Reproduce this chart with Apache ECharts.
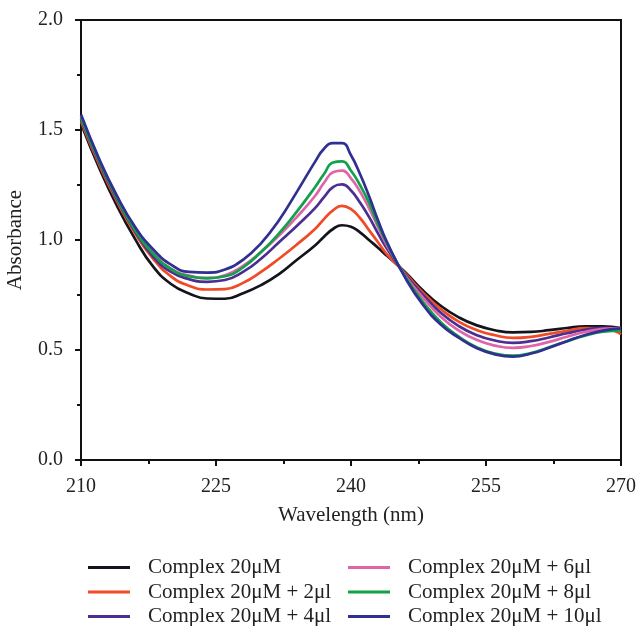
<!DOCTYPE html>
<html>
<head>
<meta charset="utf-8">
<script src="https://cdn.jsdelivr.net/npm/echarts@6/dist/echarts.min.js"></script>
<style>html,body{margin:0;padding:0;background:#fff;}#c{width:637px;height:626px;}</style>
</head>
<body>
<div id="c"></div>
<script>
const wavelengths = [210,212,214,216,218,220,222,224,226,228,230,232,234,236,237,238,239,240,241,242,243,244,246,248,250,252,254,256,258,260,262,264,266,268,270];
const seriesNames = ["Complex 20\u03bcM","Complex 20\u03bcM + 2\u03bcl","Complex 20\u03bcM + 4\u03bcl","Complex 20\u03bcM + 6\u03bcl","Complex 20\u03bcM + 8\u03bcl","Complex 20\u03bcM + 10\u03bcl"];
const complex0  = [1.53,1.33,1.155,1.005,0.88,0.80,0.757,0.734,0.733,0.758,0.795,0.845,0.91,0.975,1.015,1.05,1.067,1.06,1.035,1.0,0.965,0.928,0.855,0.77,0.70,0.648,0.612,0.59,0.58,0.582,0.59,0.60,0.607,0.607,0.60];
const complex2  = [1.54,1.345,1.175,1.03,0.915,0.835,0.792,0.775,0.777,0.805,0.855,0.915,0.98,1.05,1.095,1.135,1.155,1.14,1.10,1.045,0.99,0.935,0.85,0.76,0.685,0.628,0.59,0.567,0.555,0.56,0.573,0.587,0.60,0.598,0.572];
const complex4  = [1.55,1.355,1.185,1.04,0.925,0.855,0.822,0.81,0.818,0.855,0.915,0.99,1.065,1.145,1.195,1.24,1.253,1.225,1.17,1.105,1.03,0.96,0.845,0.75,0.668,0.608,0.567,0.543,0.532,0.54,0.557,0.576,0.592,0.601,0.598];
const complex6  = [1.565,1.365,1.195,1.05,0.94,0.87,0.838,0.828,0.84,0.882,0.945,1.02,1.105,1.20,1.26,1.308,1.315,1.28,1.22,1.145,1.06,0.975,0.84,0.738,0.65,0.588,0.545,0.52,0.51,0.518,0.537,0.56,0.582,0.596,0.60];
const complex8  = [1.555,1.36,1.19,1.045,0.938,0.868,0.835,0.826,0.835,0.875,0.945,1.03,1.13,1.24,1.30,1.352,1.357,1.315,1.25,1.17,1.07,0.985,0.835,0.718,0.625,0.56,0.512,0.484,0.474,0.486,0.512,0.54,0.565,0.583,0.588];
const complex10 = [1.57,1.37,1.20,1.06,0.958,0.888,0.855,0.852,0.866,0.91,0.985,1.09,1.22,1.355,1.415,1.44,1.44,1.385,1.30,1.20,1.09,0.99,0.83,0.705,0.615,0.555,0.508,0.48,0.47,0.484,0.51,0.54,0.568,0.588,0.598];
const xTicks = [210,225,240,255,270];
const yTicks = [0,0.5,1.0,1.5,2.0];

const allValues = [complex0,complex2,complex4,complex6,complex8,complex10];
const colors = ['#14141c','#f04a26','#4a2e90','#e065a8','#12a04a','#2f3090'];
const font = 'Liberation Serif';

const chart = echarts.init(document.getElementById('c'), null, {renderer:'canvas'});
const series = allValues.map((vals, i) => ({
  name: seriesNames[i],
  type: 'line',
  smooth: 0.5,
  showSymbol: false,
  symbol: 'none',
  lineStyle: {width: 2.7, color: colors[i]},
  itemStyle: {color: colors[i]},
  data: wavelengths.map((w, j) => [w, vals[j]]),
  z: 2 + (i === 2 ? 3 : i)
}));

const legendCommon = {
  orient: 'vertical',
  icon: 'rect',
  itemWidth: 42,
  itemHeight: 3,
  itemGap: 3.5,
  padding: 0,
  height: 140,
  textStyle: {fontFamily: font, fontSize: 21, color: '#222', lineHeight: 21, padding: [0,0,0,13]}
};

chart.setOption({
  animation: false,
  backgroundColor: '#fff',
  color: colors,
  textStyle: {fontFamily: font},
  grid: {left: 81, right: 16, top: 20, bottom: 166, outerBoundsMode: 'none', containLabel: false, show: true, borderColor: '#111', borderWidth: 2, backgroundColor: 'transparent'},
  legend: [
    Object.assign({}, legendCommon, {data: seriesNames.slice(0,3), left: 88, top: 557}),
    Object.assign({}, legendCommon, {data: seriesNames.slice(3,6), left: 348, top: 557})
  ],
  xAxis: {
    type: 'value', min: xTicks[0], max: xTicks[xTicks.length-1], interval: 15,
    name: 'Wavelength (nm)', nameLocation: 'middle', nameGap: 45,
    nameTextStyle: {fontFamily: font, fontSize: 21, color: '#222'},
    axisLine: {show: true, lineStyle: {color: '#111', width: 2}},
    axisTick: {show: true, inside: false, length: 6, lineStyle: {color: '#111', width: 2}},
    minorTick: {show: true, splitNumber: 2, length: 4, lineStyle: {color: '#111', width: 2}},
    splitLine: {show: false},
    axisLabel: {fontFamily: font, fontSize: 20, color: '#222', margin: 17}
  },
  yAxis: {
    type: 'value', min: yTicks[0], max: yTicks[yTicks.length-1], interval: 0.5,
    name: 'Absorbance', nameLocation: 'middle', nameGap: 55, nameRotate: 90,
    nameTextStyle: {fontFamily: font, fontSize: 21, color: '#222'},
    axisLine: {show: true, lineStyle: {color: '#111', width: 2}},
    axisTick: {show: true, inside: false, length: 6, lineStyle: {color: '#111', width: 2}},
    minorTick: {show: true, splitNumber: 2, length: 4, lineStyle: {color: '#111', width: 2}},
    splitLine: {show: false},
    axisLabel: {fontFamily: font, fontSize: 20, color: '#222', margin: 18, formatter: v => v.toFixed(1)}
  },
  series: series
});
</script>
</body>
</html>
